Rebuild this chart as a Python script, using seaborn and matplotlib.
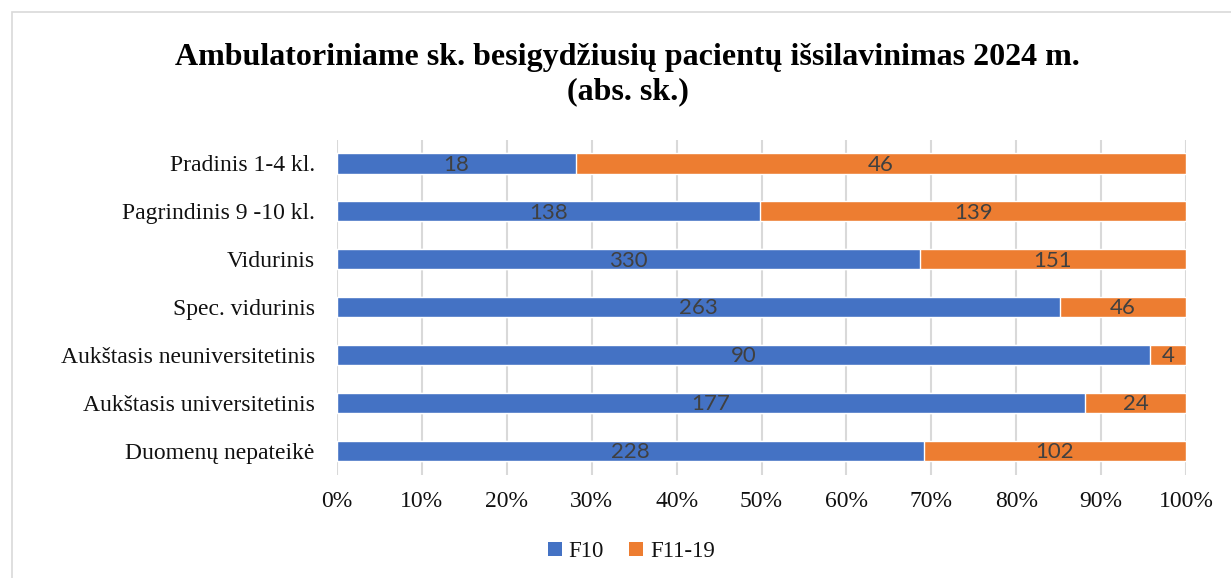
import matplotlib
matplotlib.use("Agg")
import matplotlib.pyplot as plt
import seaborn as sns
import numpy as np
import pandas as pd
from matplotlib.patches import Rectangle, Patch

categories = ["Pradinis 1-4 kl.", "Pagrindinis 9 -10 kl.", "Vidurinis", "Spec. vidurinis",
              "Aukštasis neuniversitetinis", "Aukštasis universitetinis", "Duomenų nepateikė"]
f10 = [18, 138, 330, 263, 90, 177, 228]
f11_19 = [46, 139, 151, 46, 4, 24, 102]
series_names = ["F10", "F11-19"]
title = "Ambulatoriniame sk. besigydžiusių pacientų išsilavinimas 2024 m.\n(abs. sk.)"
xticks = [0, 10, 20, 30, 40, 50, 60, 70, 80, 90, 100]

BLUE = "#4472C4"
ORANGE = "#ED7D31"

sns.set_theme(style="white")
plt.rcParams['font.family'] = ['Liberation Serif', 'DejaVu Serif']
plt.rcParams['text.color'] = 'black'

f10a = np.array(f10, float)
f11a = np.array(f11_19, float)
tot = f10a + f11a
df = pd.DataFrame({"cat": categories,
                   "f10p": f10a / tot * 100,
                   "totp": tot / tot * 100})

fig = plt.figure(figsize=(12.31, 5.78), dpi=100)
ax = fig.add_axes([0.2738, 0.179, 0.6897, 0.5796])

sns.barplot(data=df, x="totp", y="cat", color=ORANGE, ax=ax, width=0.42,
            saturation=1, orient="h", zorder=3)
sns.barplot(data=df, x="f10p", y="cat", color=BLUE, ax=ax, width=0.42,
            saturation=1, orient="h", zorder=3)

# data labels centered in each segment
cont_orange = ax.containers[0]
cont_blue = ax.containers[1]
for i, (pb, po) in enumerate(zip(cont_blue.patches, cont_orange.patches)):
    yb = pb.get_y() + pb.get_height() / 2 + 0.03
    xb = pb.get_x() + pb.get_width() / 2
    ax.text(xb, yb, str(f10[i]), ha="center", va="center", fontsize=16,
            color="#404040", family=["Lato", "DejaVu Sans"], zorder=5)
    xo = (pb.get_width() + po.get_width()) / 2
    ax.text(xo, yb, str(f11_19[i]), ha="center", va="center", fontsize=16,
            color="#404040", family=["Lato", "DejaVu Sans"], zorder=5)

ax.set_xlim(0, 100)
ax.set_ylim(len(categories) - 0.5, -0.5)
ax.set_xticks(xticks)
ax.set_xticklabels([f"{t}%" for t in xticks], fontsize=17)
ax.tick_params(axis="x", length=0, pad=12)
ax.tick_params(axis="y", length=0, pad=16, labelsize=17)
ax.set_xlabel("")
ax.set_ylabel("")
for lab in ax.get_yticklabels():
    lab.set_color("#111111")
for lab in ax.get_xticklabels():
    lab.set_color("#111111")
ax.grid(axis="x", color="#D9D9D9", linewidth=1.5, zorder=0)
ax.grid(axis="y", visible=False)
for s in ax.spines.values():
    s.set_visible(False)

fig.suptitle(title, fontsize=23, fontweight="bold", x=0.51, y=0.925,
             va="top", linespacing=1.2, color="black")

handles = [Patch(facecolor=BLUE, edgecolor="none"), Patch(facecolor=ORANGE, edgecolor="none")]
fig.legend(handles, series_names, loc="center", bbox_to_anchor=(0.513, 0.046), ncol=2,
           frameon=False, fontsize=16.5, handlelength=0.6, handleheight=0.6,
           handletextpad=0.3, columnspacing=1.1, labelcolor="#111111")

fig.patches.append(Rectangle((12 / 1231, -0.1), 1.2, 1.1 - 12 / 578,
                             transform=fig.transFigure, fill=False,
                             edgecolor="#D9D9D9", linewidth=1.2))

fig.savefig("out.png", dpi=100)
